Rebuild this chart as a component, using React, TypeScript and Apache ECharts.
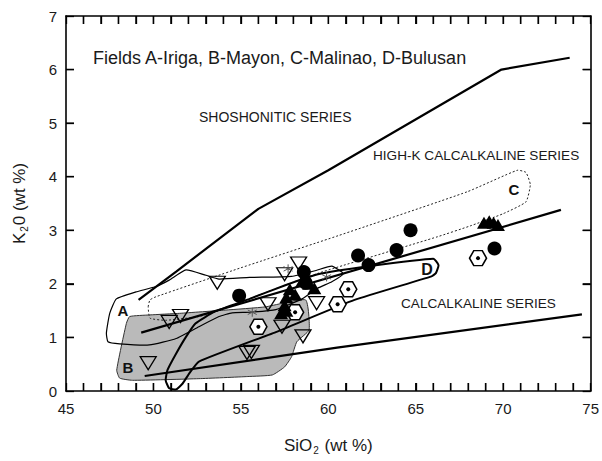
import React, { useEffect, useRef } from "react";
import * as echarts from "echarts";

// ---- data (SiO2 wt%, K2O wt%) ----
const xTickLabels = [45, 50, 55, 60, 65, 70, 75];
const yTickLabels = [0, 1, 2, 3, 4, 5, 6, 7];
const xMinorTicks = [46, 47, 48, 49, 50, 51, 52, 53, 54, 55, 56, 57, 58, 59, 60, 61, 62, 63, 64, 65, 66, 67, 68, 69, 70, 71, 72, 73, 74];
const yInnerTicks = [1, 2, 3, 4, 5, 6];
const xRange = [45, 75];
const yRange = [0, 7];

const shoshoniticLine = [[49.15, 1.7], [51.3, 2.23], [56.0, 3.4], [60.0, 4.12], [69.9, 6.0], [73.8, 6.22]];
const highKLine = [[49.3, 1.09], [73.3, 3.38]];
const calcAlkalineLine = [[49.5, 0.28], [60.5, 0.81], [74.5, 1.43]];

const fieldA = [[47.88, 1.72], [49.0, 1.85], [50.15, 1.95], [50.9, 2.07], [51.86, 2.26], [53.0, 2.16], [53.75, 2.09], [55.5, 2.12], [57.9, 2.14], [59.3, 2.25], [60.2, 2.33], [60.85, 2.19], [60.2, 2.04], [59.4, 1.92], [58.5, 1.72], [57.0, 1.52], [55.5, 1.47], [54.5, 1.46], [53.75, 1.39], [52.6, 1.2], [51.3, 0.98], [49.77, 0.86], [48.07, 0.88], [47.4, 0.92], [47.31, 1.08], [47.5, 1.45]];
const fieldB = [[48.64, 1.39], [49.8, 1.42], [51.5, 1.45], [54.1, 1.51], [56.4, 1.57], [58.7, 1.7], [58.9, 1.14], [58.2, 0.92], [57.9, 0.64], [57.5, 0.45], [56.8, 0.3], [55.4, 0.27], [52.6, 0.23], [48.8, 0.2], [48.07, 0.24], [47.9, 0.39], [48.45, 1.26]];
const fieldC = [[49.7, 1.57], [49.8, 1.7], [50.15, 1.76], [55.0, 2.3], [60.57, 2.9], [67.95, 3.72], [70.8, 4.12], [71.3, 4.08], [71.55, 3.85], [71.3, 3.53], [70.0, 3.31], [68.1, 3.08], [66.25, 2.88], [59.43, 2.2], [56.5, 1.85], [53.56, 1.48], [52.6, 1.39], [50.7, 1.32], [49.8, 1.36]];
const fieldD = [[53.5, 1.48], [55.5, 1.72], [57.5, 1.97], [59.4, 2.18], [62.3, 2.33], [66.0, 2.47], [66.3, 2.35], [66.15, 2.2], [65.9, 2.14], [61.5, 1.7], [57.0, 1.1], [52.6, 0.55], [52.05, 0.33], [51.67, 0.14], [51.3, 0.03], [50.9, 0.05], [50.7, 0.2], [50.8, 0.39], [51.3, 0.7], [51.86, 1.01], [52.4, 1.26]];

const filledCircles = [[54.9, 1.78], [58.6, 2.22], [58.7, 2.02], [61.7, 2.53], [62.3, 2.35], [63.9, 2.63], [64.7, 3.0], [69.5, 2.66]];
const filledTriangles = [[57.3, 1.45], [57.5, 1.6], [57.6, 1.75], [57.8, 1.9], [58.1, 1.8], [58.5, 2.05], [58.9, 2.0], [59.2, 1.92], [57.6, 1.5], [68.9, 3.14], [69.2, 3.17], [69.45, 3.14], [69.7, 3.1]];
const openTriangles = [[49.7, 0.52], [50.9, 1.29], [51.55, 1.4], [53.65, 2.02], [55.35, 0.71], [55.6, 0.73], [56.55, 1.62], [57.35, 1.2], [57.5, 2.18], [58.3, 2.38], [58.55, 1.02], [59.33, 1.64]];
const hexagons = [[56.0, 1.2], [58.1, 1.47], [60.53, 1.62], [61.14, 1.9], [68.56, 2.48]];
const asterisks = [[55.65, 1.47], [57.7, 2.28], [59.9, 2.13]];

const FONT = "Liberation Sans, Arial, sans-serif";
const TXT = "#1a1a1a";
const TICK = 8;

function fieldSeries(points: number[][], style: any, z: number, smooth: number) {
  return {
    type: "custom",
    coordinateSystem: "cartesian2d",
    data: [points[0]],
    z,
    silent: true,
    renderItem: (_p: any, api: any) => ({
      type: "polygon",
      shape: { points: points.map((p) => api.coord(p)), smooth },
      style,
    }),
  };
}

function boundary(points: number[][]) {
  return {
    type: "line",
    data: points,
    symbol: "none",
    lineStyle: { color: "#000", width: 2.2 },
    z: 3,
    silent: true,
  };
}

function scatter(data: number[][], symbol: string, size: any, itemStyle: any, z: number, rotate = 0) {
  return {
    type: "scatter",
    data,
    symbol,
    symbolSize: size,
    symbolRotate: rotate,
    itemStyle: { opacity: 1, ...itemStyle },
    z,
    clip: false,
    silent: true,
  };
}

const textEls = [
  { type: "text", x: 93, y: 58, style: { text: "Fields A-Iriga, B-Mayon, C-Malinao, D-Bulusan", fontSize: 18, fontFamily: FONT, fill: TXT, align: "left", verticalAlign: "middle" } },
  { type: "text", x: 199, y: 117, style: { text: "SHOSHONITIC SERIES", fontSize: 14, fontFamily: FONT, fill: TXT, align: "left", verticalAlign: "middle" } },
  { type: "text", x: 373, y: 155, style: { text: "HIGH-K CALCALKALINE SERIES", fontSize: 13.6, fontFamily: FONT, fill: TXT, align: "left", verticalAlign: "middle" } },
  { type: "text", x: 401, y: 303, style: { text: "CALCALKALINE SERIES", fontSize: 13.6, fontFamily: FONT, fill: TXT, align: "left", verticalAlign: "middle" } },
  { type: "text", x: 123, y: 310, z: 10, style: { text: "A", fontSize: 15, fontWeight: "bold", fontFamily: FONT, fill: "#111", align: "center", verticalAlign: "middle" } },
  { type: "text", x: 128, y: 367, z: 10, style: { text: "B", fontSize: 15, fontWeight: "bold", fontFamily: FONT, fill: "#111", align: "center", verticalAlign: "middle" } },
  { type: "text", x: 514, y: 189, z: 10, style: { text: "C", fontSize: 15, fontWeight: "bold", fontFamily: FONT, fill: "#111", align: "center", verticalAlign: "middle" } },
  { type: "text", x: 427, y: 269, z: 10, style: { text: "D", fontSize: 16, fontWeight: "bold", fontFamily: FONT, fill: "#111", align: "center", verticalAlign: "middle" } },
];

export default function App() {
  const ref = useRef<HTMLDivElement>(null);
  useEffect(() => {
    if (!ref.current) return;
    const chart = echarts.init(ref.current, undefined, { renderer: "svg" });
    const axisCommon = {
      type: "value",
      splitLine: { show: false },
      axisLine: { show: true, onZero: false, lineStyle: { color: "#000", width: 1.6 } },
      axisTick: { show: true, inside: true, length: TICK, lineStyle: { color: "#000", width: 1.3 } },
    };
    const nameStyle = {
      color: TXT,
      fontFamily: FONT,
      fontSize: 17,
      rich: {
        n: { fontSize: 17, fontFamily: FONT, color: TXT },
        s: { fontSize: 10, fontFamily: FONT, color: TXT, padding: [9, 1, 0, 1] },
      },
    };
    chart.setOption({
      animation: false,
      backgroundColor: "#fff",
      grid: { left: 66, right: 8, top: 16, bottom: 70, containLabel: false },
      xAxis: [
        {
          ...axisCommon,
          position: "bottom",
          min: xRange[0],
          max: xRange[1],
          interval: 1,
          axisLabel: {
            color: TXT,
            fontSize: 15,
            fontFamily: FONT,
            margin: 10,
            formatter: (v: number) => (xTickLabels.includes(v) ? String(v) : ""),
          },
          name: "{n|SiO}{s|2}{n| (wt %)}",
          nameLocation: "middle",
          nameGap: 45,
          nameTextStyle: nameStyle,
        },
        { ...axisCommon, position: "top", min: xRange[0], max: xRange[1], interval: 1, axisLabel: { show: false } },
      ],
      yAxis: [
        {
          ...axisCommon,
          position: "left",
          min: yRange[0],
          max: yRange[1],
          interval: 1,
          axisLabel: {
            color: TXT,
            fontSize: 15,
            fontFamily: FONT,
            margin: 9,
            formatter: (v: number) => (yTickLabels.includes(v) ? String(v) : ""),
          },
          name: "{n|K}{s|2}{n|0 (wt %)}",
          nameLocation: "middle",
          nameRotate: 90,
          nameGap: 37,
          nameTextStyle: nameStyle,
        },
        { ...axisCommon, position: "right", min: yRange[0], max: yRange[1], interval: 1, axisLabel: { show: false } },
      ],
      graphic: textEls,
      series: [
        fieldSeries(fieldB, { fill: "#bababa", stroke: "#333", lineWidth: 1 }, 1, 0.15),
        fieldSeries(fieldA, { fill: "none", stroke: "#000", lineWidth: 1.2 }, 2, 0.15),
        fieldSeries(fieldC, { fill: "none", stroke: "#222", lineWidth: 1, lineDash: [2, 2] }, 2, 0.15),
        fieldSeries(fieldD, { fill: "none", stroke: "#000", lineWidth: 2 }, 2, 0.15),
        boundary(shoshoniticLine),
        boundary(highKLine),
        boundary(calcAlkalineLine),
        scatter(openTriangles, "triangle", [16, 13], { color: "transparent", borderColor: "#000", borderWidth: 1.3 }, 4, 180),
        scatter(asterisks, "path://M5,0 L5,10 M0.67,2.5 L9.33,7.5 M0.67,7.5 L9.33,2.5", 9, { color: "none", borderColor: "#555", borderWidth: 1 }, 4),
        scatter(hexagons, "path://M-10,0 L-5,-8.66 L5,-8.66 L10,0 L5,8.66 L-5,8.66 Z", [17, 15], { color: "#fff", borderColor: "#000", borderWidth: 1.5 }, 5),
        scatter(hexagons, "circle", 4, { color: "#000" }, 6),
        scatter(filledCircles, "circle", 14, { color: "#000" }, 6),
        scatter(filledTriangles, "triangle", [14, 12], { color: "#000" }, 7),
      ],
    });

    // Inward frame ticks as graphic lines, positioned through the chart's own scales.
    const px = (p: number[]) => chart.convertToPixel({ gridIndex: 0 }, p) as number[];
    const tickEls: any[] = [];
    const st = { stroke: "#000", lineWidth: 1.4 };
    xMinorTicks.forEach((v) => {
      const b = px([v, yRange[0]]);
      const t = px([v, yRange[1]]);
      tickEls.push({ type: "line", z: 20, shape: { x1: b[0], y1: b[1], x2: b[0], y2: b[1] - TICK }, style: st });
      tickEls.push({ type: "line", z: 20, shape: { x1: t[0], y1: t[1], x2: t[0], y2: t[1] + TICK }, style: st });
    });
    yInnerTicks.forEach((v) => {
      const l = px([xRange[0], v]);
      const r = px([xRange[1], v]);
      tickEls.push({ type: "line", z: 20, shape: { x1: l[0], y1: l[1], x2: l[0] + TICK, y2: l[1] }, style: st });
      tickEls.push({ type: "line", z: 20, shape: { x1: r[0], y1: r[1], x2: r[0] - TICK, y2: r[1] }, style: st });
    });
    chart.setOption({ graphic: [...textEls, ...tickEls] });

    return () => chart.dispose();
  }, []);
  return <div ref={ref} style={{ position: "absolute", left: 0, top: 0, width: 602, height: 461 }} />;
}
